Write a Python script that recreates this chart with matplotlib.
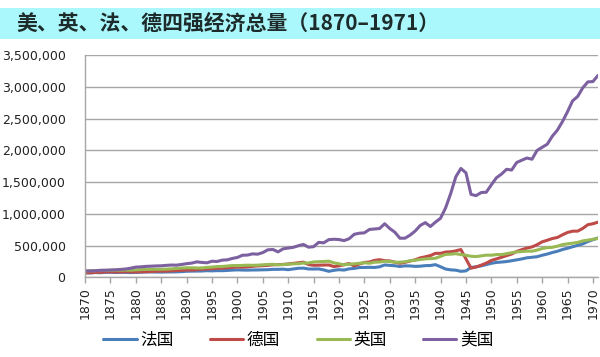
import numpy as np
import matplotlib
matplotlib.use("Agg")
import matplotlib.pyplot as plt
from matplotlib.patches import Rectangle
from matplotlib.ticker import FuncFormatter, MultipleLocator

years = list(range(1870, 1972))

france = [
    72100, 69000, 75000, 72000, 78000, 79000, 75000, 78000, 77000, 74000,
    77000, 80000, 84000, 84000, 83000, 82000, 84000, 85000, 86000, 89000,
    95074, 97000, 98000, 99000, 104000, 101000, 105000, 104000, 108000, 113000,
    116747, 114000, 113000, 115000, 116000, 118000, 120000, 125000, 125000, 128000,
    120000, 131000, 142000, 144489, 131000, 130000, 132000, 116000, 94000, 110000,
    120000, 114000, 133000, 140000, 154000, 155000, 157000, 155000, 165000, 194193,
    188000, 182000, 170000, 180000, 179000, 172000, 175000, 184000, 185610, 199000,
    166000, 130000, 117000, 112000, 94000, 101000, 155000, 166000, 180000, 200000,
    220492, 234000, 240000, 248000, 261000, 275000, 289000, 307000, 315000, 324000,
    347000, 366000, 390000, 410000, 437000, 457000, 481000, 504000, 526000, 563000,
    592000, 620000,
]

germany = [
    72149, 71000, 77000, 80000, 85000, 86000, 85000, 84000, 88000, 85000,
    84000, 86000, 87500, 91500, 94000, 97000, 98000, 102000, 106000, 109000,
    115581, 114000, 120000, 126000, 130000, 136000, 141000, 144000, 151000, 156000,
    162335, 160000, 164000, 172000, 179000, 183000, 188000, 196000, 200000, 203000,
    210499, 219000, 229000, 237332, 201000, 189000, 191000, 193000, 194000, 169000,
    180000, 199000, 217000, 180000, 209000, 234000, 241000, 266000, 277000, 262084,
    258000, 238000, 221000, 235000, 256000, 276000, 306000, 323000, 342351, 377000,
    377284, 398000, 402000, 416000, 437000, 290000, 143381, 161232, 190695, 223178,
    265354, 289679, 314794, 341150, 366584, 407000, 435000, 460000, 478000, 513000,
    558482, 583000, 610000, 627000, 669000, 706000, 726000, 727000, 770000, 828000,
    843103, 868000,
]

uk = [
    100180, 103500, 104000, 107000, 108500, 110500, 111900, 112800, 113400, 112000,
    117500, 121000, 125000, 126000, 126500, 125800, 128500, 133500, 139000, 145500,
    150269, 150000, 147000, 147000, 156000, 161000, 168000, 171000, 178000, 185000,
    184861, 187000, 191000, 189000, 191000, 197000, 202000, 205000, 196000, 200000,
    206000, 212000, 214000, 224618, 226000, 242000, 246000, 249000, 254000, 228000,
    212938, 196000, 206000, 212000, 221000, 229000, 221000, 238000, 241000, 251348,
    249000, 236000, 238000, 245000, 260000, 269000, 280000, 290000, 294000, 300000,
    330000, 360000, 364000, 372000, 357000, 347000, 331000, 327000, 337000, 349000,
    347850, 358000, 358000, 372000, 387000, 400000, 405000, 412000, 411000, 428000,
    452768, 467000, 472000, 490000, 515000, 527000, 537000, 549000, 573000, 585000,
    599016, 611000,
]

usa = [
    98374, 100201, 103000, 110000, 111000, 115000, 118000, 124000, 131000, 143000,
    160656, 164000, 172000, 175000, 179000, 181000, 188000, 193000, 191000, 202000,
    214714, 223000, 243000, 234000, 228000, 253000, 249000, 270000, 275000, 297000,
    312499, 347000, 350000, 369000, 364000, 389000, 433000, 438000, 400000, 448000,
    460471, 472000, 497000, 517383, 474000, 482000, 550000, 543000, 593000, 599000,
    594590, 578000, 607000, 677000, 694000, 700000, 753000, 761000, 768000, 843334,
    768314, 710000, 615000, 615686, 664000, 728000, 816000, 861000, 799357, 869000,
    929737, 1094628, 1318807, 1581122, 1713572, 1644761, 1305357, 1285697, 1334331, 1339505,
    1455916, 1566784, 1625245, 1699970, 1688804, 1808126, 1843455, 1878063, 1859088, 1997061,
    2046727, 2094396, 2220732, 2316765, 2450915, 2607294, 2778086, 2847549, 2983081, 3076517,
    3081900, 3178106,
]

series_names = ["法国", "德国", "英国", "美国"]
series_colors = ["#4a7ebb", "#be4b48", "#98b954", "#7d60a0"]
title = "美、英、法、德四强经济总量（1870–1971）"

cjk = ["Noto Sans CJK SC", "DejaVu Sans"]

fig = plt.figure(figsize=(6.0, 3.57), dpi=100)
fig.patches.append(Rectangle((0, 1 - 39 / 357), 1, 31 / 357, transform=fig.transFigure,
                             facecolor="#abf8fc", edgecolor="none", zorder=0))
fig.text(0.028, 1 - 23.5 / 357, title, fontsize=15, fontweight="bold", family=cjk,
         color="#1e2b2b", va="center", ha="left")

ax = fig.add_axes([85 / 600, 1 - 277.3 / 357, (598 - 85) / 600, (277.3 - 55) / 357])
for vals, name, col in zip([france, germany, uk, usa], series_names, series_colors):
    ax.plot(years, vals, color=col, lw=2.2, label=name, solid_joinstyle="round",
            solid_capstyle="round")

ax.set_xlim(1870, 1971)
ax.set_ylim(0, 3500000)
ax.yaxis.set_major_locator(MultipleLocator(500000))
ax.yaxis.set_major_formatter(FuncFormatter(lambda v, p: f"{int(v):,}"))
ax.set_xticks(list(range(1870, 1971, 5)))
ax.set_xticklabels([str(y) for y in range(1870, 1971, 5)], rotation=90)
ax.grid(axis="y", color="#a6a6a6", lw=1.0)
ax.set_axisbelow(True)
for s in ["top", "right"]:
    ax.spines[s].set_visible(False)
for s in ["left", "bottom"]:
    ax.spines[s].set_color("#a6a6a6")
    ax.spines[s].set_linewidth(1.0)
ax.tick_params(axis="y", length=0, labelsize=9, colors="#222222", pad=14)
ax.tick_params(axis="x", length=4, width=1, color="#a6a6a6", labelsize=9,
               labelcolor="#222222", pad=3)

handles, labels = ax.get_legend_handles_labels()
fig.legend(handles, labels, loc="center", bbox_to_anchor=(0.497, 1 - 340 / 357), ncol=4,
           frameon=False, handlelength=2.0, handletextpad=0.2, columnspacing=2.2,
           prop={"family": cjk, "size": 12})

fig.savefig("out.png", dpi=100)
